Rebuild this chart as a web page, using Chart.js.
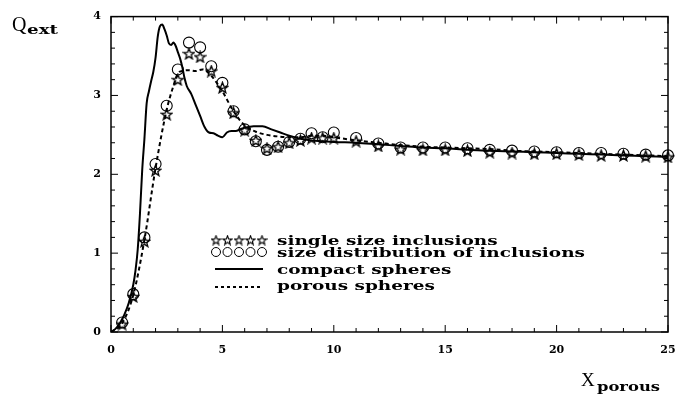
<!DOCTYPE html>
<html>
<head>
<meta charset="utf-8">
<script src="https://cdn.jsdelivr.net/npm/chart.js@4.4.1/dist/chart.umd.min.js"></script>
<style>
  html, body { margin: 0; padding: 0; background: #fff; }
  #wrap { width: 696px; height: 398px; }
</style>
</head>
<body>
<div id="wrap"><canvas id="chart" width="696" height="398"></canvas></div>
<script>
// compact spheres (solid curve)
const compactX = [0, 0.2, 0.4, 0.6, 0.8, 1.0, 1.1, 1.2, 1.3, 1.4, 1.5, 1.6, 1.7, 1.8, 1.9, 2.0, 2.1, 2.2, 2.3, 2.4, 2.5, 2.6, 2.7, 2.8, 2.9, 3.0, 3.1, 3.2, 3.3, 3.4, 3.6, 3.8, 4.0, 4.2, 4.4, 4.6, 4.8, 5.0, 5.2, 5.4, 5.6, 5.8, 6.0, 6.4, 6.8, 7.2, 7.6, 8.0, 8.5, 9, 9.5, 10, 11, 12, 13, 14, 15, 16, 17, 18, 19, 20, 21, 22, 23, 24, 25];
const compactY = [0, 0.04, 0.11, 0.22, 0.37, 0.6, 0.78, 1.05, 1.5, 2.05, 2.45, 2.9, 3.05, 3.18, 3.3, 3.48, 3.75, 3.88, 3.9, 3.84, 3.76, 3.66, 3.64, 3.67, 3.63, 3.55, 3.47, 3.36, 3.22, 3.12, 3.02, 2.88, 2.74, 2.6, 2.53, 2.52, 2.49, 2.47, 2.53, 2.55, 2.55, 2.57, 2.59, 2.61, 2.61, 2.57, 2.53, 2.49, 2.45, 2.43, 2.42, 2.41, 2.40, 2.38, 2.36, 2.34, 2.33, 2.31, 2.30, 2.29, 2.28, 2.27, 2.26, 2.25, 2.24, 2.23, 2.22];

// porous spheres (dotted curve)
const porousX = [0, 0.5, 1.0, 1.5, 2.0, 2.5, 2.8, 3.0, 3.2, 3.5, 3.8, 4.1, 4.5, 5.0, 5.5, 6.0, 6.5, 7.0, 7.5, 8.0, 8.5, 9, 9.5, 10, 11, 12, 13, 14, 15, 16, 17, 18, 19, 20, 21, 22, 23, 24, 25];
const porousY = [0, 0.11, 0.47, 1.17, 2.08, 2.82, 3.12, 3.28, 3.31, 3.32, 3.31, 3.33, 3.25, 3.05, 2.8, 2.62, 2.54, 2.5, 2.48, 2.47, 2.47, 2.49, 2.49, 2.47, 2.43, 2.40, 2.37, 2.35, 2.34, 2.33, 2.32, 2.30, 2.29, 2.28, 2.27, 2.26, 2.25, 2.24, 2.23];

// symbols
const sizeX = [0.5, 1, 1.5, 2, 2.5, 3, 3.5, 4, 4.5, 5, 5.5, 6, 6.5, 7, 7.5, 8, 8.5, 9, 9.5, 10, 11, 12, 13, 14, 15, 16, 17, 18, 19, 20, 21, 22, 23, 24, 25];
const singleY = [0.1, 0.45, 1.15, 2.05, 2.76, 3.2, 3.53, 3.49, 3.31, 3.1, 2.78, 2.56, 2.43, 2.33, 2.35, 2.4, 2.43, 2.46, 2.46, 2.46, 2.42, 2.36, 2.32, 2.31, 2.31, 2.30, 2.28, 2.27, 2.26, 2.26, 2.25, 2.24, 2.24, 2.23, 2.22];
const distribY = [0.12, 0.48, 1.2, 2.13, 2.87, 3.33, 3.67, 3.61, 3.37, 3.16, 2.8, 2.57, 2.42, 2.31, 2.35, 2.41, 2.45, 2.52, 2.47, 2.53, 2.46, 2.39, 2.34, 2.34, 2.34, 2.33, 2.31, 2.30, 2.29, 2.28, 2.27, 2.27, 2.26, 2.25, 2.24];

const legendLabels = ['single size inclusions', 'size distribution of inclusions', 'compact spheres', 'porous spheres'];

function pairs(xs, ys) {
  return xs.map((x, i) => ({ x: x, y: ys[i] }));
}

// outlined five-point star used as point style
function makeStar(size, lw) {
  const c = document.createElement('canvas');
  c.width = size; c.height = size;
  const g = c.getContext('2d');
  const cx = size / 2, cy = size / 2 + 0.5;
  const ro = size / 2 - 0.8, ri = ro * 0.42;
  g.beginPath();
  for (let i = 0; i < 10; i++) {
    const r = i % 2 ? ri : ro;
    const a = -Math.PI / 2 + i * Math.PI / 5;
    g.lineTo(cx + r * Math.cos(a), cy + r * Math.sin(a));
  }
  g.closePath();
  g.strokeStyle = '#000';
  g.lineWidth = lw;
  g.stroke();
  return c;
}
const starImg = makeStar(13, 1.3);
const starSmall = makeStar(11, 1.1);

const serif = '"DejaVu Serif", serif';

// text squeezed into a given width (the original lettering is very wide)
function wideText(ctx, txt, x, y, sx) {
  ctx.save();
  ctx.translate(x, y);
  ctx.scale(sx, 1);
  ctx.fillText(txt, 0, 0);
  ctx.restore();
}

// frame, inward ticks, axis titles and legend
const decorations = {
  id: 'decorations',
  afterDraw(chart) {
    const ctx = chart.ctx;
    const a = chart.chartArea;
    const xs = chart.scales.x, ys = chart.scales.y;
    ctx.save();
    ctx.strokeStyle = '#000';
    ctx.lineWidth = 1.5;
    ctx.strokeRect(a.left, a.top, a.right - a.left, a.bottom - a.top);
    ctx.lineWidth = 1;
    ctx.beginPath();
    for (let v = 0; v <= 25; v++) {
      const px = xs.getPixelForValue(v);
      const len = v % 5 === 0 ? 7 : 4;
      ctx.moveTo(px, a.bottom); ctx.lineTo(px, a.bottom - len);
      ctx.moveTo(px, a.top); ctx.lineTo(px, a.top + len);
    }
    for (let k = 0; k <= 20; k++) {
      const py = ys.getPixelForValue(k / 5);
      const len = k % 5 === 0 ? 7 : 4;
      ctx.moveTo(a.left, py); ctx.lineTo(a.left + len, py);
      ctx.moveTo(a.right, py); ctx.lineTo(a.right - len, py);
    }
    ctx.stroke();

    // axis titles
    ctx.fillStyle = '#000';
    ctx.textBaseline = 'alphabetic';
    ctx.textAlign = 'left';
    ctx.font = '20px "Liberation Serif", serif';
    ctx.fillText('Q', 12, 31);
    ctx.font = 'bold 12px ' + serif;
    wideText(ctx, 'ext', 27, 34, 31 / ctx.measureText('ext').width);
    ctx.font = '19px "Liberation Serif", serif';
    ctx.fillText('X', 581, 386);
    ctx.font = 'bold 13px ' + serif;
    wideText(ctx, 'porous', 597, 391, 63 / ctx.measureText('porous').width);

    // legend
    const textX = 277;
    const rows = [240, 252, 269, 287];
    const base = [245, 257, 274, 290];
    for (let i = 0; i < 5; i++) {
      const sx = 216 + i * 11.5;
      ctx.drawImage(starSmall, sx - 5.5, rows[0] - 5.5);
      ctx.beginPath();
      ctx.arc(sx, rows[1], 4.5, 0, Math.PI * 2);
      ctx.stroke();
    }
    ctx.lineWidth = 2;
    ctx.beginPath();
    ctx.moveTo(215, rows[2]); ctx.lineTo(263, rows[2]);
    ctx.stroke();
    ctx.setLineDash([3, 3]);
    ctx.beginPath();
    ctx.moveTo(215, rows[3]); ctx.lineTo(263, rows[3]);
    ctx.stroke();
    ctx.setLineDash([]);
    ctx.font = 'bold 12px ' + serif;
    const stretch = 308 / ctx.measureText(legendLabels[1]).width;
    legendLabels.forEach((t, i) => wideText(ctx, t, textX, base[i], stretch));
    ctx.restore();
  }
};

new Chart(document.getElementById('chart'), {
  type: 'scatter',
  data: {
    datasets: [
      {
        label: legendLabels[2],
        data: pairs(compactX, compactY),
        showLine: true,
        borderColor: '#000',
        borderWidth: 2,
        pointRadius: 0,
        cubicInterpolationMode: 'monotone'
      },
      {
        label: legendLabels[3],
        data: pairs(porousX, porousY),
        showLine: true,
        borderColor: '#000',
        borderWidth: 2,
        borderDash: [4, 3],
        pointRadius: 0,
        cubicInterpolationMode: 'monotone'
      },
      {
        label: legendLabels[0],
        data: pairs(sizeX, singleY),
        pointStyle: starImg,
        pointRadius: 6,
        clip: false
      },
      {
        label: legendLabels[1],
        data: pairs(sizeX, distribY),
        pointStyle: 'circle',
        pointRadius: 5.5,
        borderWidth: 1.1,
        borderColor: '#000',
        backgroundColor: 'rgba(0,0,0,0)',
        clip: false
      }
    ]
  },
  options: {
    responsive: false,
    animation: false,
    layout: { padding: { top: 13, right: 28, left: 0, bottom: 0 } },
    plugins: {
      legend: { display: false },
      tooltip: { enabled: false }
    },
    scales: {
      x: {
        type: 'linear',
        min: 0,
        max: 25,
        grid: { display: false, drawTicks: false },
        border: { display: false },
        ticks: { stepSize: 5, padding: 12, color: '#000', font: { family: serif, size: 11, weight: 'bold' } },
        afterFit(scale) { scale.height = 66; }
      },
      y: {
        min: 0,
        max: 4,
        grid: { display: false, drawTicks: false },
        border: { display: false },
        ticks: { stepSize: 1, padding: 10, color: '#000', font: { family: serif, size: 11, weight: 'bold' } },
        afterFit(scale) { scale.width = 111; }
      }
    }
  },
  plugins: [decorations]
});
</script>
</body>
</html>
